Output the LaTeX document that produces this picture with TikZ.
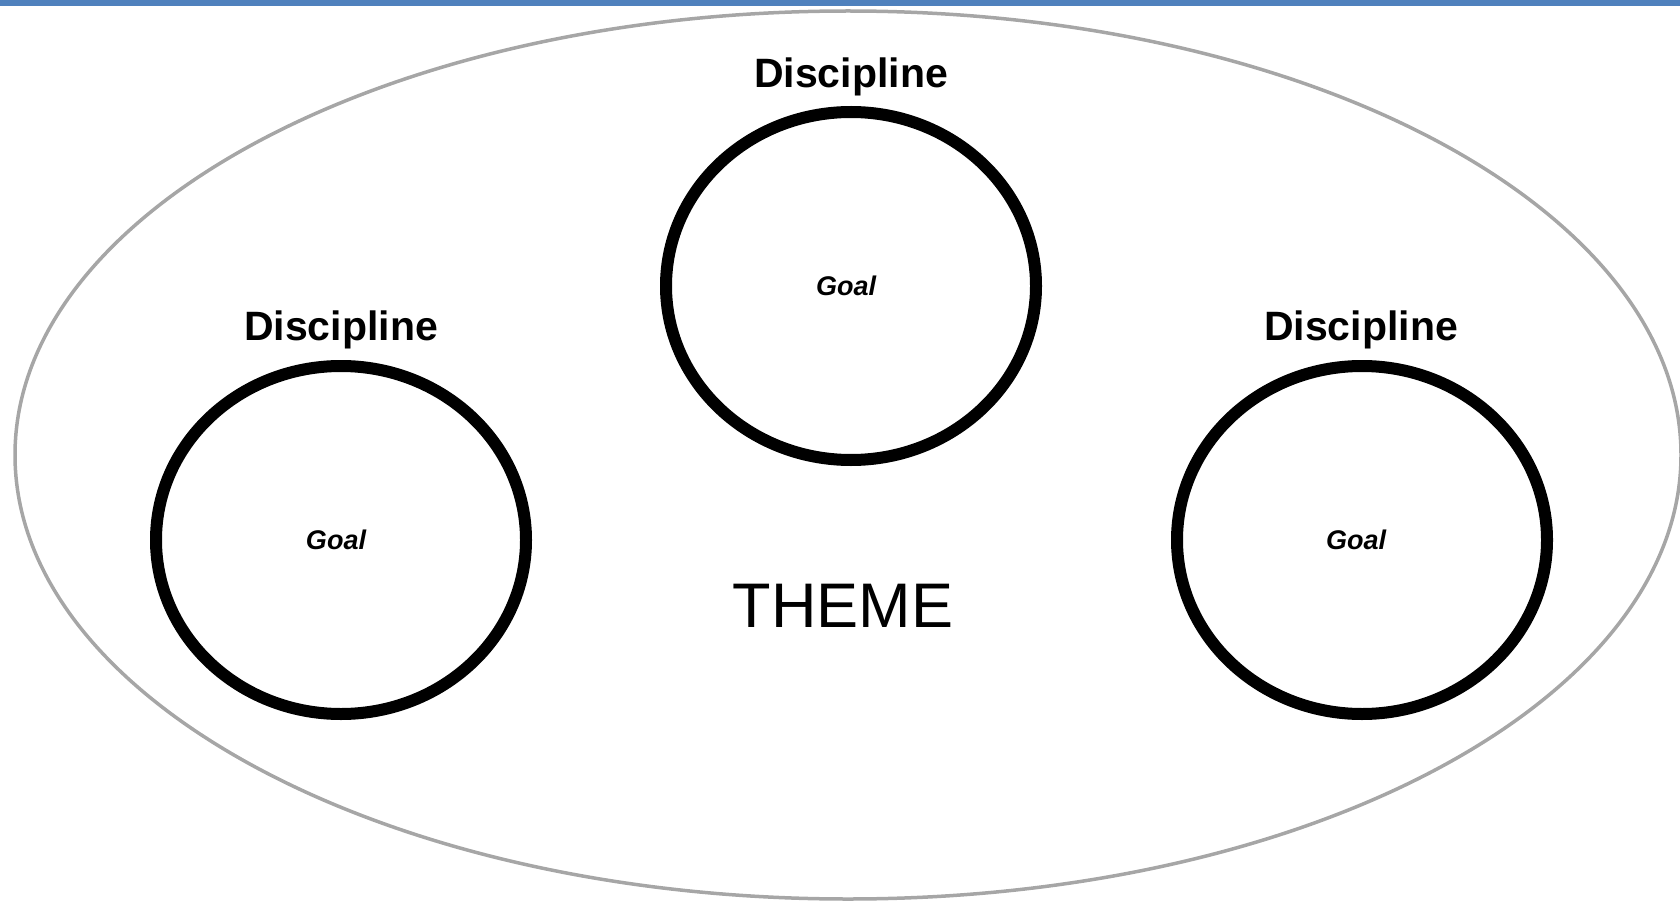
\documentclass[tikz,border=0pt]{standalone}
\usepackage{fontspec}
\setmainfont{Liberation Sans}
\definecolor{barblue}{RGB}{79,129,189}
\definecolor{rimgray}{RGB}{166,166,166}

\begin{document}
\begin{tikzpicture}[x=1pt, y=-1pt,
		goalring/.style={draw=black, line width=12pt},
		disclabel/.style={font=\fontsize{41}{41}\selectfont\bfseries},
		goallabel/.style={font=\fontsize{27}{27}\selectfont\bfseries\itshape}]
		\useasboundingbox (0, 0) rectangle (1680, 901);
		\fill[barblue] (0, 0) rectangle (1680, 6);
		\draw[rimgray, line width=3.5pt] (848, 455) ellipse [x radius=833, y radius=444];
		\draw[goalring] (851, 286) ellipse [x radius=185, y radius=174];
		\draw[goalring] (341, 540) ellipse [x radius=185, y radius=174];
		\draw[goalring] (1362, 540) ellipse [x radius=185, y radius=174];
		\node[disclabel] (disctop) at (851, 77) {Discipline};
		\node[disclabel] (discleft) at (341, 330) {Discipline};
		\node[disclabel] (discright) at (1361, 330) {Discipline};
		\node[goallabel] (goaltop) at (846, 286) {Goal};
		\node[goallabel] (goalleft) at (336, 540) {Goal};
		\node[goallabel] (goalright) at (1356, 540) {Goal};
		\node[font=\fontsize{63}{63}\selectfont] (theme) at (843, 606) {THEME};
	\end{tikzpicture}
\end{document}
